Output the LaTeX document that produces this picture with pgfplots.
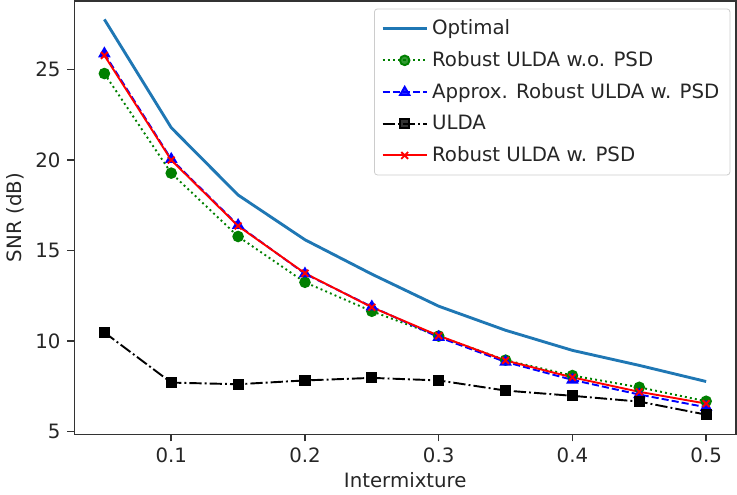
\documentclass[border=0pt]{standalone}
\usepackage{fontspec}
\setmainfont{DejaVu Sans}
\usepackage{pgfplots}
\pgfplotsset{compat=1.18}
\definecolor{tabblue}{HTML}{1F77B4}
\definecolor{mgreen}{HTML}{008000}
\begin{document}
\begin{tikzpicture}
\begin{axis}[
  scale only axis,
  width=345pt, height=226pt,
  xmin=0.0275, xmax=0.5225,
  ymin=4.85, ymax=28.8,
  xtick={0.1,0.2,0.3,0.4,0.5},
  xticklabels={0.1,0.2,0.3,0.4,0.5},
  ytick={5,10,15,20,25},
  yticklabels={5,10,15,20,25},
  /pgf/number format/assume math mode=true,
  tick align=outside,
  tick pos=left,
  major tick length=3.7pt,
  axis line style={line width=0.8pt, black!80},
  every tick/.style={black!80, line width=0.8pt},
  tick label style={font=\fontsize{10.3}{12}\selectfont, black!85},
  label style={font=\fontsize{10.3}{12}\selectfont, black!85},
  xlabel={Intermixture},
  ylabel={SNR (dB)},
  xlabel style={yshift=2pt},
  ylabel style={yshift=-1pt},
  legend style={at={(rel axis cs:0.991,0.982)}, anchor=north east,
    draw=black!20, rounded corners=1.5pt, fill=white, fill opacity=0.8, text opacity=1,
    font=\fontsize{10.3}{12}\selectfont, row sep=3.3pt, inner xsep=3.5pt, inner ysep=3.5pt,
    cells={anchor=west, text=black!85}},
  legend image code/.code={
    \draw[mark repeat=2,mark phase=2,#1] plot coordinates {(0pt,0pt) (11.5pt,0pt) (23pt,0pt)};
  },
]
\addplot[color=tabblue, line width=1.5pt, mark=none] coordinates {
(0.05,27.77) (0.10,21.79) (0.15,18.07) (0.20,15.60) (0.25,13.70) (0.30,11.93) (0.35,10.60) (0.40,9.49) (0.45,8.66) (0.50,7.77)};
\addlegendentry{Optimal}
\addplot[color=mgreen, line width=1pt, dash pattern=on 1pt off 1.65pt, mark=*, mark size=2.5pt, mark options={solid, fill=mgreen, draw=mgreen}] coordinates {
(0.05,24.78) (0.10,19.28) (0.15,15.78) (0.20,13.25) (0.25,11.65) (0.30,10.28) (0.35,8.95) (0.40,8.10) (0.45,7.45) (0.50,6.68)};
\addlegendentry{Robust ULDA w.o. PSD}
\addplot[color=blue, line width=1pt, dash pattern=on 3.7pt off 1.6pt, mark=triangle*, mark size=2.8pt, mark options={solid, fill=blue}] coordinates {
(0.05,25.88) (0.10,20.05) (0.15,16.40) (0.20,13.72) (0.25,11.90) (0.30,10.22) (0.35,8.85) (0.40,7.86) (0.45,7.05) (0.50,6.35)};
\addlegendentry{Approx. Robust ULDA w. PSD}
\addplot[color=black, line width=1pt, dash pattern=on 6.4pt off 1.6pt on 1pt off 1.6pt, mark=square*, mark size=2.4pt, mark options={solid, fill=black}] coordinates {
(0.05,10.48) (0.10,7.71) (0.15,7.62) (0.20,7.83) (0.25,7.97) (0.30,7.83) (0.35,7.27) (0.40,6.98) (0.45,6.66) (0.50,5.94)};
\addlegendentry{ULDA}
\addplot[color=red, line width=1pt, mark=x, mark size=2.5pt, mark options={solid}] coordinates {
(0.05,25.78) (0.10,20.00) (0.15,16.36) (0.20,13.75) (0.25,11.87) (0.30,10.30) (0.35,8.93) (0.40,8.00) (0.45,7.20) (0.50,6.55)};
\addlegendentry{Robust ULDA w. PSD}
\end{axis}
\end{tikzpicture}
\end{document}
